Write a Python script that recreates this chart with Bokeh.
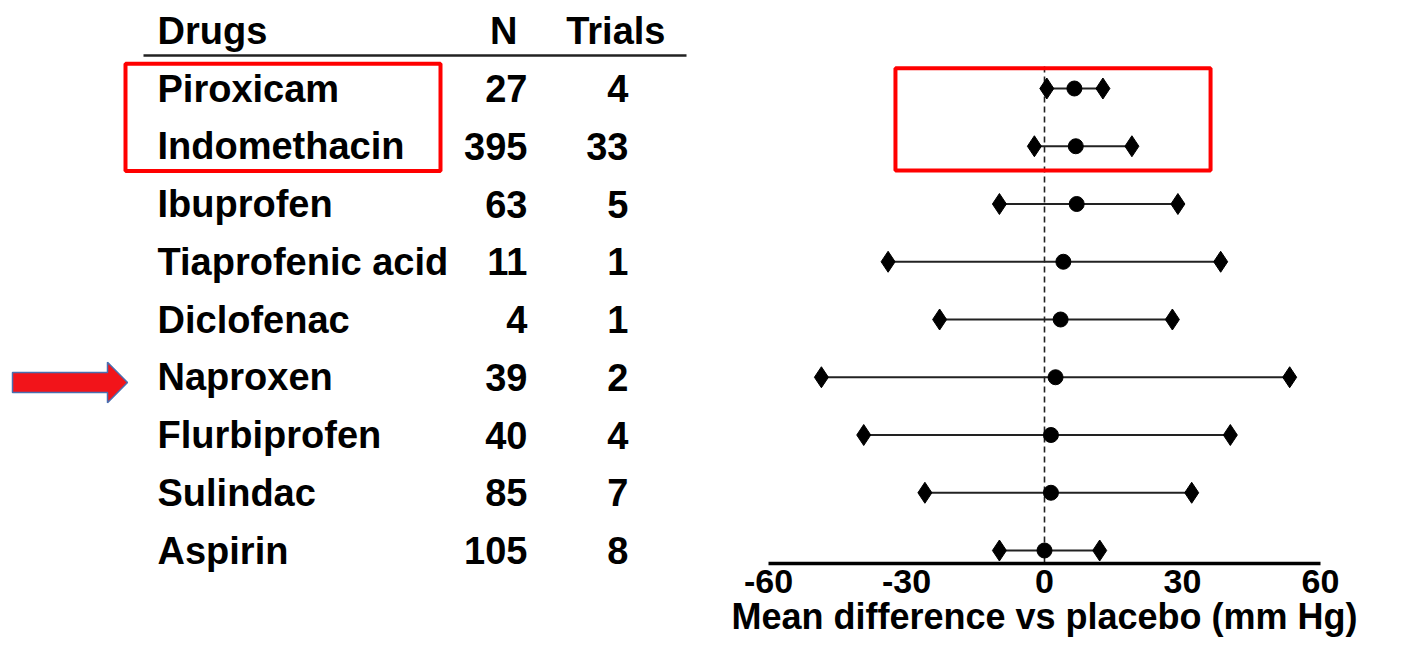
from bokeh.plotting import figure
from bokeh.models import Range1d, FixedTicker, ColumnDataSource, LabelSet
from bokeh.layouts import row, column
from bokeh.core.properties import value
from bokeh.embed import file_html
from bokeh.resources import INLINE

# ---------------- data ----------------
drugs = ["Piroxicam", "Indomethacin", "Ibuprofen", "Tiaprofenic acid", "Diclofenac",
         "Naproxen", "Flurbiprofen", "Sulindac", "Aspirin"]
n_patients = [27, 395, 63, 11, 4, 39, 40, 85, 105]
trials = [4, 33, 5, 1, 1, 2, 4, 7, 8]
mean_diff = [6.5, 6.8, 7.0, 4.1, 3.5, 2.4, 1.4, 1.4, 0.0]
ci_low = [0.5, -2.2, -9.8, -34.0, -22.8, -48.5, -39.3, -26.0, -9.8]
ci_high = [12.7, 19.0, 29.0, 38.3, 27.8, 53.3, 40.4, 32.0, 12.0]
x_ticks = [-60, -30, 0, 30, 60]
headers = ["Drugs", "N", "Trials"]
axis_title = "Mean difference vs placebo (mm Hg)"
highlighted = ["Piroxicam", "Indomethacin"]
arrow_drug = "Naproxen"

# ---------------- styling ----------------
FONT = "Liberation Sans"
TXT = "38px"
H = 639
ROW0_PX, ROW_PX = 88.0, 57.75      # pixel position of first row and row pitch
rows = list(range(len(drugs)))
src = ColumnDataSource(dict(
    drug=drugs, n=[str(v) for v in n_patients], t=[str(v) for v in trials],
    y=rows, mean=mean_diff, lo=ci_low, hi=ci_high,
    xd=[157] * len(drugs), xn=[527] * len(drugs), xt=[628] * len(drugs)))

y_top = -ROW0_PX / ROW_PX
yr_left = Range1d((H - ROW0_PX) / ROW_PX, y_top)          # table frame spans whole height
yr_right = Range1d((563 - ROW0_PX) / ROW_PX, y_top)       # forest frame ends at the axis line

common = dict(height=H, output_backend="svg", toolbar_location=None,
              min_border_top=0, min_border_bottom=0, y_axis_location=None)

# ---------------- left: table ----------------
left = figure(width=700, x_range=Range1d(0, 700), y_range=yr_left, x_axis_location=None,
              min_border_left=0, min_border_right=0, **common)
left.grid.visible = False
left.outline_line_color = None

lbl_kw = dict(text_font=value(FONT), text_font_style="bold", text_font_size=TXT,
              text_baseline="middle", text_color="black")
hdr_l = ColumnDataSource(dict(x=[157], y=[-1.0], text=headers[:1]))
hdr_r = ColumnDataSource(dict(x=[517, 665], y=[-1.0, -1.0], text=headers[1:]))
left.add_layout(LabelSet(x="x", y="y", text="text", source=hdr_l, text_align="left", **lbl_kw))
left.add_layout(LabelSet(x="x", y="y", text="text", source=hdr_r, text_align="right", **lbl_kw))
left.segment(x0=[143], x1=[686], y0=[-0.57], y1=[-0.57], line_width=2.5, line_color="#222222")

left.add_layout(LabelSet(x="xd", y="y", text="drug", source=src, text_align="left", **lbl_kw))
left.add_layout(LabelSet(x="xn", y="y", text="n", source=src, text_align="right", **lbl_kw))
left.add_layout(LabelSet(x="xt", y="y", text="t", source=src, text_align="right", **lbl_kw))

hi_idx = [drugs.index(d) for d in highlighted]
left.quad(left=[125], right=[440], top=[min(hi_idx) - 0.43], bottom=[max(hi_idx) + 0.43],
          fill_color=None, line_color="#ff0000", line_width=4)

ai = drugs.index(arrow_drug) + 0.09
sh, hh = 0.173, 0.35
left.patch(x=[12, 107, 107, 127, 107, 107, 12],
           y=[ai - sh, ai - sh, ai - hh, ai, ai + hh, ai + sh, ai + sh],
           fill_color="#f2141a", line_color="#4a6fb0", line_width=1.5)

# ---------------- right: forest plot ----------------
right = figure(width=686, x_range=Range1d(-60, 60), y_range=yr_right,
               min_border_left=68, min_border_right=66, **common)
right.grid.visible = False
right.outline_line_color = None

ax = right.xaxis[0]
ax.ticker = FixedTicker(ticks=x_ticks)
ax.major_label_overrides = {t: str(t) for t in x_ticks}
ax.major_tick_line_color = None
ax.minor_tick_line_color = None
ax.major_label_text_font = FONT
ax.major_label_text_font_style = "bold"
ax.major_label_text_font_size = "34px"
ax.major_label_text_color = "black"
ax.major_label_standoff = 0
ax.axis_label = axis_title
ax.axis_label_text_font = FONT
ax.axis_label_text_font_style = "bold"
ax.axis_label_text_font_size = "36px"
ax.axis_label_text_color = "black"
ax.axis_label_standoff = 0
ax.axis_line_width = 3.5
ax.axis_line_color = "black"

right.segment(x0=[0], x1=[0], y0=[-0.38], y1=[yr_right.start], line_dash="6 4",
              line_width=1.6, line_color="#222222")
right.segment(x0="lo", x1="hi", y0="y", y1="y", source=src, line_width=1.8, line_color="#222222")
right.scatter(x="lo", y="y", source=src, marker="diamond", size=21, color="black")
right.scatter(x="hi", y="y", source=src, marker="diamond", size=21, color="black")
right.scatter(x="mean", y="y", source=src, marker="circle", size=15, color="black")

right.quad(left=[-32.4], right=[36.1], top=[min(hi_idx) - 0.35], bottom=[max(hi_idx) + 0.42],
           fill_color=None, line_color="#ff0000", line_width=4)

layout = row(column(left), column(right))
open("out.html", "w").write(file_html(layout, INLINE))
